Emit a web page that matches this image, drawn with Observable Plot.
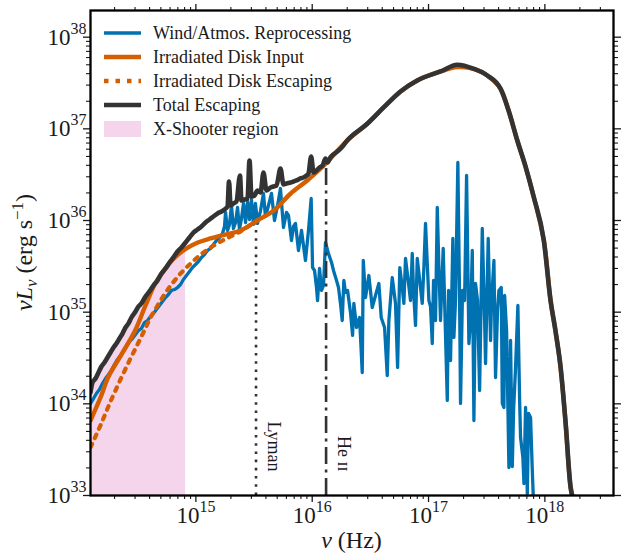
<!DOCTYPE html>
<html>
<head>
<meta charset="utf-8">
<script src="https://cdn.jsdelivr.net/npm/d3@7"></script>
<script src="https://cdn.jsdelivr.net/npm/@observablehq/plot@0.6"></script>
<style>
  html, body { margin: 0; padding: 0; background: #fff; }
  #chart { width: 628px; height: 554px; }
</style>
</head>
<body>
<div id="chart"></div>
<script>
// ---------- data (log10 of nu [Hz] and log10 of nu*L_nu [erg/s]) ----------
const windLogNu = [14.094,14.120,14.145,14.171,14.197,14.223,14.249,14.274,14.300,14.326,14.352,14.377,14.403,14.429,14.455,14.481,14.506,14.532,14.558,14.584,14.610,14.635,14.661,14.687,14.713,14.739,14.764,14.790,14.816,14.842,14.868,14.893,14.919,14.945,14.971,14.997,15.022,15.048,15.074,15.100,15.126,15.151,15.177,15.203,15.229,
  15.246,15.255,15.272,15.289,15.306,15.323,15.341,15.358,15.375,15.392,15.409,15.427,15.444,15.461,15.478,15.495,15.512,15.530,
  15.556,15.581,15.598,15.624,15.650,15.676,15.702,15.727,15.753,15.779,15.796,15.822,15.839,15.856,15.882,15.908,15.925,15.942,15.968,15.991,16.003,16.020,16.037,16.046,16.063,16.080,16.097,16.114,
  16.140,16.166,16.183,16.209,16.226,16.243,16.258,16.272,16.286,16.304,16.329,16.347,16.358,16.381,16.407,16.430,16.439,16.458,16.487,16.516,16.544,16.573,16.593,16.622,16.645,16.659,16.688,16.716,16.734,16.753,16.774,16.788,16.802,16.822,16.845,16.860,16.871,16.888,16.903,16.931,16.946,16.960,16.974,17.003,17.017,17.032,17.043,17.060,17.075,17.089,17.103,17.126,17.138,17.161,17.172,17.189,17.209,17.218,17.232,17.252,17.267,17.275,17.292,17.310,17.327,17.347,17.361,17.376,17.390,17.404,17.421,17.439,17.462,17.482,17.490,17.513,17.533,17.542,17.562,17.576,17.593,17.605,17.625,17.634,17.648,17.654,17.671,17.691,17.705,17.720,17.731,17.748,17.768,17.783,17.791,17.811,17.820,17.834,17.849,17.860,17.877,17.892,17.900,17.912];
const windLogL = [34.004,34.058,34.113,34.156,34.222,34.276,34.320,34.364,34.429,34.484,34.527,34.571,34.626,34.680,34.713,34.757,34.800,34.822,34.887,34.909,34.953,34.986,35.029,35.073,35.117,35.160,35.193,35.237,35.247,35.269,35.302,35.357,35.400,35.444,35.487,35.520,35.553,35.597,35.629,35.673,35.695,35.738,35.782,35.815,35.858,
  35.935,36.088,35.891,35.957,36.164,35.913,35.978,36.142,35.902,36.022,36.186,35.978,36.208,36.011,36.229,35.957,36.186,35.968,
  36.109,36.295,36.044,36.164,36.295,36.000,36.164,36.349,35.924,36.088,36.055,35.782,35.935,35.968,35.673,35.891,35.728,35.564,35.891,36.240,35.487,35.455,35.269,35.127,35.477,35.237,35.291,35.760,
  35.640,35.542,35.455,35.346,35.269,35.095,34.909,35.346,35.215,35.237,34.997,34.746,35.095,34.833,34.942,34.342,35.564,35.160,35.400,35.051,35.182,35.313,34.942,34.833,34.309,34.909,35.378,35.095,34.397,35.487,35.269,35.095,35.586,35.378,35.127,35.640,35.237,34.855,35.586,35.269,35.095,35.487,35.968,35.127,35.062,34.658,35.346,34.909,36.142,35.487,34.909,35.695,35.127,34.037,35.237,34.473,35.804,34.724,35.127,36.633,35.127,34.004,35.237,35.127,36.491,34.658,34.909,35.673,33.818,35.313,35.127,34.146,35.913,34.909,34.440,35.804,34.691,35.127,35.564,34.287,35.018,35.237,35.269,34.004,33.960,35.182,34.800,33.305,34.691,33.316,33.927,34.397,35.073,34.037,33.633,33.415,33.131,33.960,33.022,33.895,33.851,33.273,33.000,32.836];

const inputLogNu = [14.094,14.180,14.249,14.360,14.478,14.567,14.650,14.739,14.822,14.919,15.022,15.126,15.223,15.384,15.527,15.670,15.813,15.957,16.100,16.301,16.473,16.616,16.759,16.903,17.103,17.247,17.390,17.505,17.619,17.688,17.763,17.834,17.905,17.991,18.049,18.092,18.135,18.178,18.221,18.247];
const inputLogL  = [33.818,34.069,34.298,34.538,34.800,35.073,35.310,35.477,35.600,35.695,35.763,35.804,35.837,35.891,36.000,36.109,36.292,36.437,36.600,36.873,37.055,37.236,37.408,37.528,37.626,37.673,37.655,37.582,37.437,37.200,36.873,36.589,36.254,35.782,35.127,34.789,34.400,33.796,33.091,32.945];

const escapeLogNu = [14.094,14.180,14.266,14.352,14.438,14.524,14.610,14.696,14.782,14.868,14.954,15.040,15.126,15.212,15.298,15.384,15.527];
const escapeLogL  = [33.524,33.764,34.026,34.266,34.495,34.713,34.942,35.127,35.291,35.422,35.531,35.629,35.706,35.771,35.826,35.880,36.000];

const totalLogNu = [14.094,14.111,14.137,14.163,14.188,14.214,14.240,14.266,14.292,14.317,14.343,14.369,14.395,14.421,14.446,14.481,14.506,14.532,14.567,14.601,14.635,14.670,14.704,14.739,14.773,14.807,14.842,14.876,14.911,14.945,14.979,15.014,15.048,15.083,15.117,15.151,15.186,15.220,15.246,15.272,15.285,15.298,15.323,15.349,15.379,15.392,15.418,15.444,15.461,15.478,15.504,15.530,15.556,15.581,15.607,15.642,15.667,15.693,15.727,15.753,15.779,15.813,15.839,15.865,15.899,15.925,15.951,15.968,15.991,16.011,16.037,16.063,16.089,16.114,16.132,16.157,16.192,16.226,16.261,16.301,16.473,16.616,16.759,16.903,17.103,17.247,17.390,17.505,17.619,17.688,17.763,17.834,17.905,17.991,18.049,18.092,18.135,18.178,18.221,18.247];
const totalLogL  = [34.124,34.233,34.276,34.342,34.407,34.451,34.506,34.560,34.615,34.658,34.713,34.767,34.833,34.877,34.942,35.007,35.062,35.095,35.171,35.226,35.291,35.346,35.422,35.477,35.542,35.597,35.662,35.706,35.760,35.815,35.869,35.902,35.935,35.978,36.011,36.044,36.077,36.098,36.120,36.153,36.426,36.164,36.186,36.208,36.491,36.218,36.229,36.240,36.655,36.262,36.273,36.328,36.306,36.524,36.328,36.360,36.371,36.382,36.568,36.393,36.404,36.415,36.426,36.437,36.459,36.469,36.491,36.513,36.699,36.524,36.546,36.579,36.600,36.677,36.633,36.688,36.731,36.764,36.808,36.873,37.055,37.236,37.408,37.528,37.626,37.700,37.655,37.582,37.437,37.200,36.873,36.589,36.254,35.782,35.127,34.789,34.400,33.796,33.091,32.945];

const xShooterMaxNu = 8.26e14;
const edgeNames = ["Lyman", "He \u026a\u026a"];
const edgeNu = [3.288e15, 1.316e16];
const edgeTop = [1.0e36, 3.8e36];

const legendLabels = ["Wind/Atmos. Reprocessing", "Irradiated Disk Input", "Irradiated Disk Escaping", "Total Escaping", "X-Shooter region"];

const xDomain = [1.242e14, 3.89e18];
const yDomain = [1e33, 1.955e38];
const xMajor = [1e15, 1e16, 1e17, 1e18];
const yMajor = [1e33, 1e34, 1e35, 1e36, 1e37, 1e38];

// ---------- build tables ----------
const toRows = (lx, ly) => lx.map((v, i) => ({nu: 10 ** v, L: 10 ** ly[i]}));
const wind = toRows(windLogNu, windLogL);
const input = toRows(inputLogNu, inputLogL);
const escape = toRows(escapeLogNu, escapeLogL);
const total = toRows(totalLogNu, totalLogL);
const xShooter = total.filter(d => d.nu <= xShooterMaxNu);
const edges = edgeNames.map((n, i) => ({label: n, nu: edgeNu[i], top: edgeTop[i]}));

function minorTicks(domain) {
  const out = [];
  for (let e = Math.floor(Math.log10(domain[0])); e <= Math.ceil(Math.log10(domain[1])); e++) {
    for (let m = 2; m <= 9; m++) {
      const v = m * 10 ** e;
      if (v >= domain[0] && v <= domain[1]) out.push(v);
    }
  }
  return out;
}
const xMinor = minorTicks(xDomain);
const yMinor = minorTicks(yDomain);

// ---------- styles ----------
const BLUE = "#0072b2", ORANGE = "#d55e00", DARK = "#333333", PINK = "#f5d5eb";
const W = 628, H = 554, mL = 90, mR = 15, mT = 10, mB = 59;
const expFmt = d => "10^" + Math.round(Math.log10(d));
const blank = () => "";

const plot = Plot.plot({
  width: W, height: H,
  marginLeft: mL, marginRight: mR, marginTop: mT, marginBottom: mB,
  style: {fontFamily: "'Liberation Serif', 'DejaVu Serif', serif", fontSize: "23px", color: "#1a1a1a", background: "#fff", overflow: "visible"},
  x: {type: "log", domain: xDomain},
  y: {type: "log", domain: yDomain},
  marks: [
    Plot.areaY(xShooter, {x: "nu", y1: yDomain[0], y2: "L", fill: PINK, clip: true}),
    Plot.line(wind, {x: "nu", y: "L", stroke: BLUE, strokeWidth: 3.3, strokeLinejoin: "round", strokeLinecap: "round", clip: true}),
    Plot.ruleX([edges[0]], {x: "nu", y1: yDomain[0], y2: "top", stroke: DARK, strokeWidth: 2.6, strokeDasharray: "2.6,5.6"}),
    Plot.ruleX([edges[1]], {x: "nu", y1: yDomain[0], y2: "top", stroke: DARK, strokeWidth: 2.6, strokeDasharray: "17,5.5,3,5.5"}),
    Plot.line(escape, {x: "nu", y: "L", stroke: ORANGE, strokeWidth: 4.2, strokeDasharray: "3.8,6.5", clip: true}),
    Plot.line(input, {x: "nu", y: "L", stroke: ORANGE, strokeWidth: 4.4, curve: "catmull-rom", strokeLinejoin: "round", clip: true}),
    Plot.line(total, {x: "nu", y: "L", stroke: DARK, strokeWidth: 4.6, curve: "monotone-x", strokeLinejoin: "round", clip: true}),
    Plot.text(edges, {x: "nu", text: "label", frameAnchor: "bottom", rotate: 90, textAnchor: "end", dx: 12, dy: -24, fontSize: 18, fill: "#1a1a1a"}),
    // axes (outward ticks on all four sides)
    Plot.axisX(xMajor, {anchor: "bottom", tickSize: 7, tickPadding: 4, tickFormat: expFmt, label: null, strokeWidth: 1.3}),
    Plot.axisX(xMinor, {anchor: "bottom", tickSize: 4, tickFormat: blank, label: null, strokeWidth: 1.1}),
    Plot.axisX(xMajor, {anchor: "top", tickSize: 7, tickFormat: blank, label: null, strokeWidth: 1.3}),
    Plot.axisX(xMinor, {anchor: "top", tickSize: 4, tickFormat: blank, label: null, strokeWidth: 1.1}),
    Plot.axisY(yMajor, {anchor: "left", tickSize: 7, tickPadding: -3, tickFormat: expFmt, label: null, strokeWidth: 1.3}),
    Plot.axisY(yMinor, {anchor: "left", tickSize: 4, tickFormat: blank, label: null, strokeWidth: 1.1}),
    Plot.axisY(yMajor, {anchor: "right", tickSize: 7, tickFormat: blank, label: null, strokeWidth: 1.3}),
    Plot.axisY(yMinor, {anchor: "right", tickSize: 4, tickFormat: blank, label: null, strokeWidth: 1.1}),
    Plot.frame({stroke: "#000", strokeWidth: 2.3})
  ]
});

document.getElementById("chart").appendChild(plot);
const svg = d3.select(plot);

// superscript tick labels
svg.selectAll('g[aria-label="x-axis tick label"] text, g[aria-label="y-axis tick label"] text').each(function () {
  const t = this.textContent;
  if (!t.includes("^")) return;
  const [b, e] = t.split("^");
  const s = d3.select(this);
  s.text(null);
  s.append("tspan").text(b);
  s.append("tspan").attr("dy", -11).attr("font-size", 16).text(e);
});

// axis titles
const yl = svg.append("text")
  .attr("transform", `translate(32,${(mT + H - mB) / 2}) rotate(-90)`)
  .attr("text-anchor", "middle").attr("font-size", 24).attr("fill", "#1a1a1a");
yl.append("tspan").attr("font-style", "italic").text("\u03bdL");
yl.append("tspan").attr("font-style", "italic").attr("font-size", 17).attr("dy", 5).text("\u03bd");
yl.append("tspan").attr("dy", -5).text(" (erg s");
yl.append("tspan").attr("font-size", 17).attr("dy", -9).text("\u22121");
yl.append("tspan").attr("dy", 9).text(")");

const xl = svg.append("text")
  .attr("x", (mL + W - mR) / 2).attr("y", 548)
  .attr("text-anchor", "middle").attr("font-size", 24).attr("fill", "#1a1a1a");
xl.append("tspan").attr("font-style", "italic").text("\u03bd");
xl.append("tspan").text(" (Hz)");

// legend
const leg = svg.append("g").attr("font-size", 18).attr("fill", "#1a1a1a").attr("text-anchor", "start");
const legStyles = [
  {stroke: BLUE, width: 3.5},
  {stroke: ORANGE, width: 4.4},
  {stroke: ORANGE, width: 4.4, dash: "4.5,7"},
  {stroke: DARK, width: 4.6},
  {fill: PINK}
];
legendLabels.forEach((lab, i) => {
  const cy = 33 + i * 24;
  const st = legStyles[i];
  if (st.fill) {
    leg.append("rect").attr("x", 104).attr("y", cy - 8).attr("width", 37).attr("height", 16).attr("fill", st.fill);
  } else {
    const ln = leg.append("line").attr("x1", 104).attr("x2", 141).attr("y1", cy).attr("y2", cy)
      .attr("stroke", st.stroke).attr("stroke-width", st.width);
    if (st.dash) ln.attr("stroke-dasharray", st.dash);
  }
  leg.append("text").attr("x", 153).attr("y", cy + 6).attr("text-anchor", "start").text(lab);
});
</script>
</body>
</html>
